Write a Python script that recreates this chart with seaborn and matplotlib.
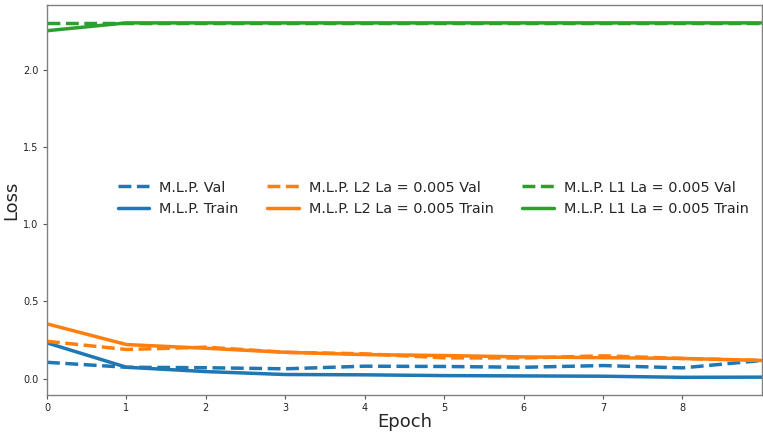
import matplotlib
matplotlib.use("Agg")
import matplotlib.pyplot as plt
import seaborn as sns
import pandas as pd

epochs = list(range(10))

mlp_val = [0.105, 0.073, 0.070, 0.063, 0.080, 0.078, 0.073, 0.084, 0.069, 0.117]
mlp_train = [0.231, 0.073, 0.045, 0.026, 0.024, 0.019, 0.017, 0.015, 0.008, 0.009]
l2_val = [0.241, 0.188, 0.203, 0.170, 0.160, 0.134, 0.133, 0.147, 0.130, 0.117]
l2_train = [0.354, 0.220, 0.196, 0.170, 0.155, 0.149, 0.140, 0.135, 0.130, 0.117]
l1_val = [2.3026, 2.3026, 2.3026, 2.3026, 2.3026, 2.3026, 2.3026, 2.3026, 2.3026, 2.3026]
l1_train = [2.252, 2.3026, 2.3026, 2.3026, 2.3026, 2.3026, 2.3026, 2.3026, 2.3026, 2.3026]

series = [
    ("M.L.P. Val", mlp_val, "#1f77b4", "--"),
    ("M.L.P. Train", mlp_train, "#1f77b4", "-"),
    ("M.L.P. L2 La = 0.005 Val", l2_val, "#ff7f0e", "--"),
    ("M.L.P. L2 La = 0.005 Train", l2_train, "#ff7f0e", "-"),
    ("M.L.P. L1 La = 0.005 Val", l1_val, "#2ca02c", "--"),
    ("M.L.P. L1 La = 0.005 Train", l1_train, "#2ca02c", "-"),
]

sns.set_style("white")
plt.rcParams["font.family"] = ["DejaVu Sans"]

fig = plt.figure(figsize=(7.63, 4.32), dpi=100)
ax = fig.add_axes([0.0616, 0.0856, 0.937, 0.9024])

for label, vals, color, ls in series:
    df = pd.DataFrame({"Epoch": epochs, "Loss": vals})
    sns.lineplot(data=df, x="Epoch", y="Loss", ax=ax, color=color,
                 linestyle=ls, linewidth=2.5, label=label)

ax.set_xlim(0, 9)
ax.set_xticks(range(9))
ax.set_yticks([0.0, 0.5, 1.0, 1.5, 2.0])
ax.tick_params(axis="both", labelsize=7, length=3, color="#555555",
               labelcolor="#222222", bottom=True, left=True, pad=3)
ax.set_xlabel("Epoch", fontsize=13, labelpad=0)
ax.set_ylabel("Loss", fontsize=13, labelpad=2)
for sp in ax.spines.values():
    sp.set_color("#808080")
    sp.set_linewidth(1.0)

ax.legend(loc="center", bbox_to_anchor=(0.54, 0.505), ncol=3, frameon=False,
          fontsize=10.4, handlelength=2.2, handletextpad=0.7,
          columnspacing=1.95, labelspacing=0.5)

fig.savefig("out.png", dpi=100)
